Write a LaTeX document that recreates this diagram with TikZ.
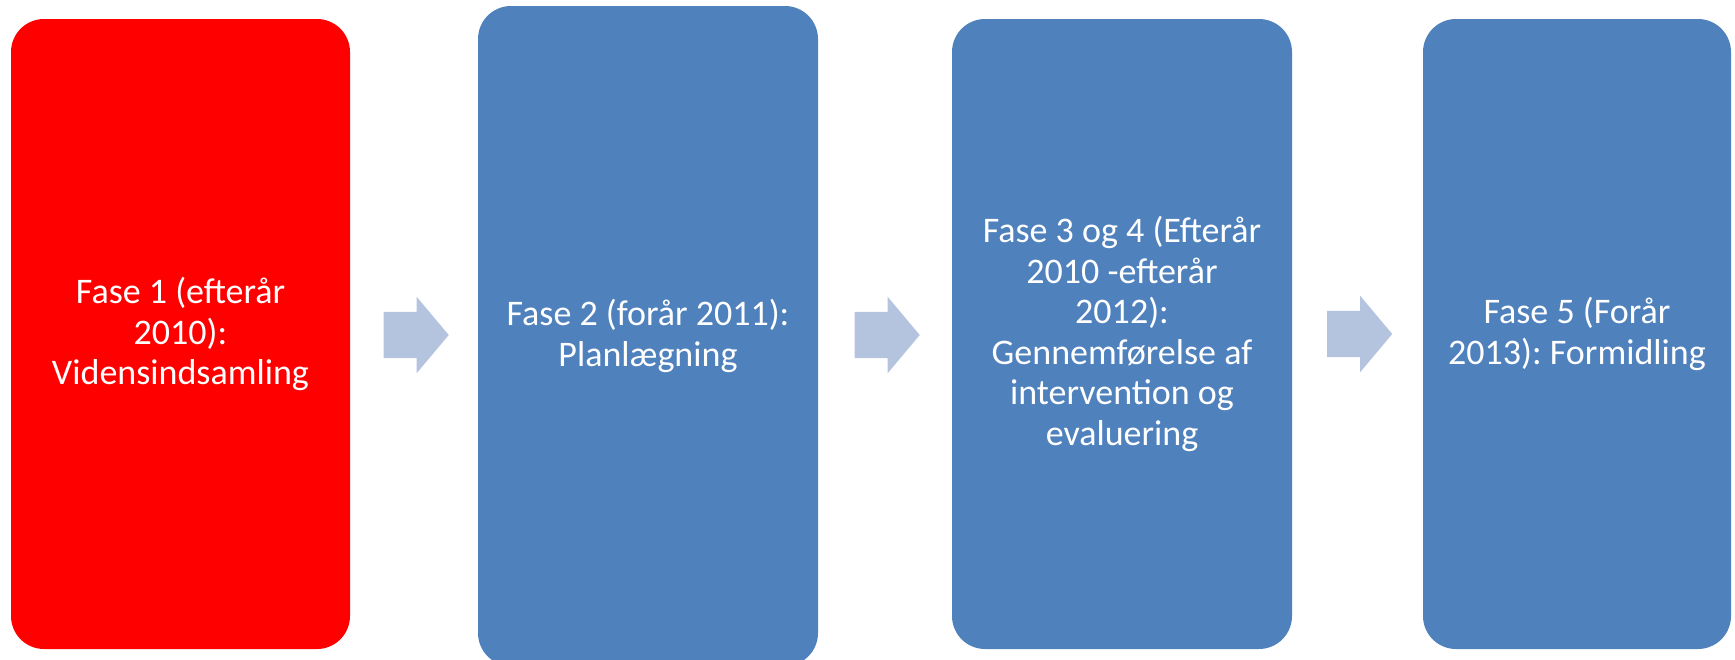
\documentclass[tikz,border=0pt]{standalone}
\usepackage{fontspec}
\setmainfont{Carlito}
\frenchspacing
\usetikzlibrary{shapes.arrows,calc}
\definecolor{fasered}{RGB}{255,0,0}
\definecolor{faseblue}{RGB}{79,129,189}
\definecolor{pilblue}{RGB}{180,196,223}
\begin{document}
\begin{tikzpicture}[x = 1pt, y = -1pt,
        fase/.style = {rectangle, rounded corners = 33pt, draw = none, text = white, align = center,
            font = \fontsize{36}{40.5}\selectfont, inner sep = 0pt},
        pil/.style = {single arrow, fill = pilblue, draw = none, minimum height = 65pt, inner xsep = 0pt,
            inner ysep = 23pt, single arrow head extend = 15pt, single arrow tip angle = 100}]
        \useasboundingbox (0, 0) rectangle (1735, 659);
        \foreach \n/\x/\y/\w/\h/\c/\txt in {f1/180.5/334/339/630/fasered/{Fase 1 (efterår\\2010):\\Vidensindsamling},
            f2/648/336/340/660/faseblue/{Fase 2 (forår 2011):\\Planlægning},
            f3/1122/334/340/630/faseblue/{Fase 3 og 4 (Efterår\\2010 -efterår\\2012):\\Gennemførelse af\\intervention og\\evaluering},
            f4/1577/334/308/630/faseblue/{Fase 5 (Forår\\2013): Formidling}}{
            \node[fase, fill = \c, minimum width = \w, minimum height = \h] (\n) at (\x, \y) {\txt};
        }
        \foreach \a/\b in {f1/f2, f2/f3, f3/f4}{
            \node[pil] (p\a) at ($(\a.east)!0.5!(\b.west) + (-7.5, 0)$) {};
        }
    \end{tikzpicture}
\end{document}
